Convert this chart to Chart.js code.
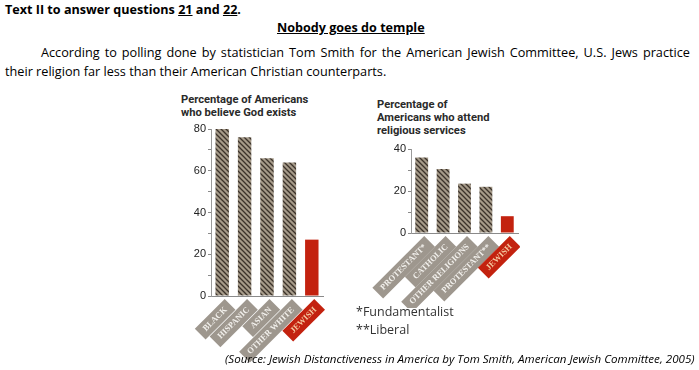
<!DOCTYPE html>
<html lang="en">
<head>
<meta charset="UTF-8">
<title>Nobody goes do temple</title>
<script src="https://cdn.jsdelivr.net/npm/chart.js"></script>
<style>
    body { margin: 0; width: 699px; height: 370px; background: #fff; position: relative; overflow: hidden; font-family: "Open Sans", "Liberation Sans", sans-serif; }
    .txt { position: absolute; white-space: nowrap; color: #000; }
    .ctitle { position: absolute; white-space: nowrap; font-family: Roboto, "Liberation Sans", sans-serif; font-weight: bold; font-size: 11.2px; line-height: 13px; color: #2a2a2a; }
    canvas { position: absolute; }
</style>
</head>
<body>

<div class="txt" style="left:5px; top:1px; font-weight:bold; font-size:12.6px;">Text II to answer questions <u>21</u> and <u>22</u>.</div>
<div class="txt" style="left:277px; top:19px; font-weight:bold; font-size:12.6px; text-decoration:underline;">Nobody goes do temple</div>
<div class="txt" style="left:41px; top:43px; font-size:12.7px; word-spacing:1.7px;">According to polling done by statistician Tom Smith for the American Jewish Committee, U.S. Jews practice</div>
<div class="txt" style="left:5px; top:62px; font-size:12.7px;">their religion far less than their American Christian counterparts.</div>

<div class="ctitle" style="left:181px; top:93px;">Percentage of Americans<br>who believe God exists</div>
<div class="ctitle" style="left:377px; top:98px;">Percentage of<br>Americans who attend<br>religious services</div>

<canvas id="godChart" width="175" height="247" style="left:150px; top:118px;"></canvas>
<canvas id="serviceChart" width="180" height="170" style="left:340px; top:138px;"></canvas>

<div class="txt" style="left:356px; top:303px; font-size:12.5px; color:#333;">*Fundamentalist</div>
<div class="txt" style="left:356px; top:321px; font-size:12.5px; color:#333;">**Liberal</div>
<div class="txt" style="left:225px; top:351px; font-size:11.6px; font-style:italic;">(Source: Jewish Distanctiveness in America by Tom Smith, American Jewish Committee, 2005)</div>

<script>
    // Chart data
    const godLabels = ['BLACK', 'HISPANIC', 'ASIAN', 'OTHER WHITE', 'JEWISH'];
    const godValues = [80, 76, 66, 64, 27];
    const serviceLabels = ['PROTESTANT*', 'CATHOLIC', 'OTHER RELIGIONS', 'PROTESTANT**', 'JEWISH'];
    const serviceValues = [36, 30.5, 23.5, 22, 8];

    // Hatched gray fill for the non-Jewish bars
    function makeHatch() {
        const c = document.createElement('canvas');
        c.width = 5; c.height = 5;
        const g = c.getContext('2d');
        g.fillStyle = '#a59a89';
        g.fillRect(0, 0, 5, 5);
        g.strokeStyle = '#3b322a';
        g.lineWidth = 1.3;
        g.beginPath();
        g.moveTo(-1, -1); g.lineTo(6, 6);
        g.moveTo(-1, 4); g.lineTo(1, 6);
        g.moveTo(4, -1); g.lineTo(6, 1);
        g.stroke();
        return g.createPattern(c, 'repeat');
    }
    const hatch = makeHatch();
    const red = '#c3220f';

    function barColors(values) {
        return values.map((v, i) => i === values.length - 1 ? red : hatch);
    }

    function buildChart(id, labels, values, yMax, yAxisWidth, xAxisHeight) {
        return new Chart(document.getElementById(id), {
            type: 'bar',
            data: {
                labels: labels,
                datasets: [{
                    data: values,
                    backgroundColor: barColors(values),
                    borderWidth: 0,
                    categoryPercentage: 1,
                    barPercentage: 0.6
                }]
            },
            options: {
                responsive: false,
                animation: false,
                layout: { padding: { top: 11, right: 2, left: 0, bottom: 0 } },
                plugins: { legend: { display: false }, tooltip: { enabled: false } },
                scales: {
                    x: {
                        grid: { display: false },
                        border: { display: true, color: '#8a8a8a', width: 1 },
                        afterFit: scale => { scale.height = xAxisHeight; },
                        ticks: {
                            autoSkip: false,
                            minRotation: 45,
                            maxRotation: 45,
                            padding: 1,
                            font: { family: 'Liberation Serif, DejaVu Serif, serif', size: 8.5, weight: 'bold' },
                            color: ctx => ctx.index === labels.length - 1 ? '#f4c9a0' : '#f2f0ec',
                            showLabelBackdrop: true,
                            backdropColor: ctx => ctx.index === labels.length - 1 ? red : '#9e978e',
                            backdropPadding: { x: 6, y: 2.5 }
                        }
                    },
                    y: {
                        min: 0,
                        max: yMax,
                        afterFit: scale => { scale.width = yAxisWidth; },
                        grid: { drawOnChartArea: false, drawTicks: true, tickLength: 3, color: '#8a8a8a' },
                        border: { display: true, color: '#9a9a9a', width: 1 },
                        ticks: {
                            stepSize: 10,
                            padding: 2,
                            font: { family: 'Liberation Sans, sans-serif', size: 11 },
                            color: '#222',
                            callback: v => v % 20 === 0 ? v : ''
                        }
                    }
                }
            }
        });
    }

    buildChart('godChart', godLabels, godValues, 80, 61, 69);
    buildChart('serviceChart', serviceLabels, serviceValues, 40, 71, 75);
</script>

</body>
</html>
